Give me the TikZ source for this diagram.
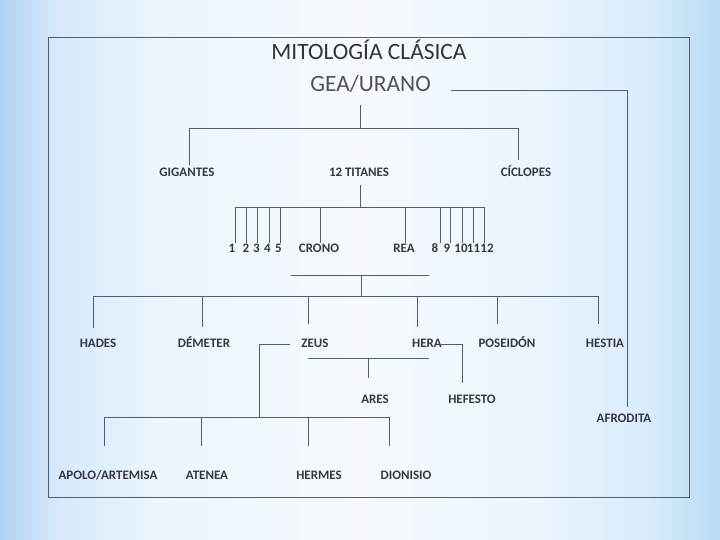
\documentclass[tikz,border=0pt]{standalone}
\usepackage{fontspec}
\setmainfont{Carlito}
\definecolor{bgA}{RGB}{176,212,243}
\definecolor{bgB}{RGB}{214,233,250}
\definecolor{bgC}{RGB}{236,245,253}
\definecolor{bgD}{RGB}{246,250,254}
\definecolor{bgE}{RGB}{218,236,251}
\definecolor{bgF}{RGB}{184,219,246}
\definecolor{linec}{RGB}{82,94,118}
\definecolor{labc}{RGB}{52,56,68}
\definecolor{titc}{RGB}{50,52,58}
\pgfdeclarehorizontalshading{bgsh}{100bp}{color(0bp)=(bgA); color(25bp)=(bgA); color(29bp)=(bgB); color(36bp)=(bgC); color(50bp)=(bgD); color(62bp)=(bgC); color(70bp)=(bgE); color(75bp)=(bgF); color(100bp)=(bgF)}
\tikzset{
  lab/.style={font=\bfseries\fontsize{13}{15}\selectfont, text=labc, inner sep=0pt, anchor=base},
  ttl/.style={font=\fontsize{23.5}{28}\selectfont, text=titc, inner sep=0pt, anchor=base},
  conn/.style={draw=linec, line width=0.8pt},
}
\begin{document}
\begin{tikzpicture}[x=1bp,y=-1bp]
\useasboundingbox (0,0) rectangle (720,540);
\shade[shading=bgsh] (0,0) rectangle (720,540);
\draw[draw=linec, line width=0.8pt] (48,37) rectangle (689,497);

% titles
\node[ttl] (title) at (369,60) {MITOLOGÍA CLÁSICA};
\node[ttl, text=titc!85] (gea) at (370.5,92) {GEA/URANO};

% level 1
\node[lab] (gig) at (187,177) {GIGANTES};
\node[lab] (tit) at (359,177) {12 TITANES};
\node[lab] (cic) at (526,177) {CÍCLOPES};

% titans
\node[lab] (t1) at (232,253) {1};
\node[lab] (t2) at (246,253) {2};
\node[lab] (t3) at (256.5,253) {3};
\node[lab] (t4) at (267.5,253) {4};
\node[lab] (t5) at (278.5,253) {5};
\node[lab] (crono) at (319,253) {CRONO};
\node[lab] (rea) at (404,253) {REA};
\node[lab] (t8) at (435,253) {8};
\node[lab] (t9) at (447,253) {9};
\node[lab] (t10) at (461,253) {10};
\node[lab] (t11) at (473.5,253) {11};
\node[lab] (t12) at (487,253) {12};

% olympians
\node[lab] (hades) at (98,347) {HADES};
\node[lab] (demeter) at (204,347) {DÉMETER};
\node[lab] (zeus) at (315,347) {ZEUS};
\node[lab] (hera) at (427,347) {HERA};
\node[lab] (poseidon) at (507,347) {POSEIDÓN};
\node[lab] (hestia) at (605,347) {HESTIA};

\node[lab] (ares) at (375,403) {ARES};
\node[lab] (hefesto) at (472,403) {HEFESTO};
\node[lab] (afrodita) at (624,422) {AFRODITA};

\node[lab] (apolo) at (108,479) {APOLO/ARTEMISA};
\node[lab] (atenea) at (207,479) {ATENEA};
\node[lab] (hermes) at (319,479) {HERMES};
\node[lab] (dionisio) at (406,479) {DIONISIO};

% connectors
\coordinate (geaR) at (451,90);
\coordinate (afTop) at (627,407);
\draw[conn] (geaR) -- (627,90) -- (afTop);

\coordinate (geaB) at (360,105);
\coordinate (j1) at (360,128);
\draw[conn] (geaB) -- (j1);
\draw[conn] (189,165) -- (189,128) -- (518,128) -- (518,160);

\coordinate (titB) at (360,185);
\coordinate (j2) at (360,207);
\draw[conn] (titB) -- (j2);
\draw[conn] (235,207) -- (484,207);
\foreach \x in {235,246,257,269,280,320,405,440,450,462,473,484}
  \draw[conn] (\x,207) -- (\x,243);

% crono + rea
\draw[conn] (291,275) -- (429,275);
\draw[conn] (361,275) -- (361,296);
\draw[conn] (93,296) -- (598,296);
\foreach \x/\e in {93/328,202/327,308/324,417/327,497/324,598/324}
  \draw[conn] (\x,296) -- (\x,\e);

% zeus children
\draw[conn] (290,344) -- (259,344) -- (259,417);
\draw[conn] (104,417) -- (389,417);
\foreach \x in {104,201,308,389}
  \draw[conn] (\x,417) -- (\x,446);

% hera
\draw[conn] (441,344) -- (462,344) -- (462,383);
% zeus + hera -> ares
\draw[conn] (308,358) -- (429,358);
\draw[conn] (368,358) -- (368,378);
\end{tikzpicture}
\end{document}
